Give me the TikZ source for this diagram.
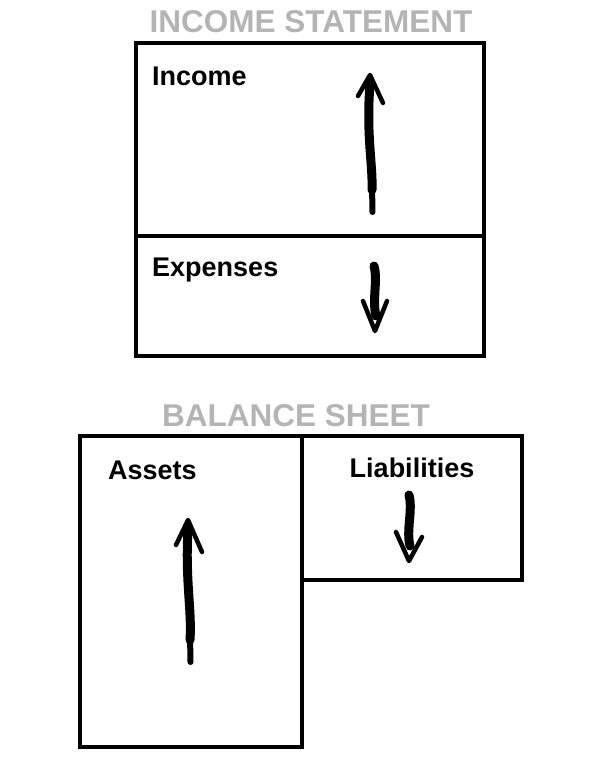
\documentclass[tikz,border=0pt]{standalone}
\usepackage{fontspec}
\setmainfont{Liberation Sans}
\usetikzlibrary{positioning}
\definecolor{headgray}{HTML}{B4B4B4}
\tikzset{
  frame/.style={line width=4pt, line join=miter},
  heading/.style={text=headgray, font=\fontsize{31.5}{31.5}\selectfont\bfseries, inner sep=0pt},
  itemtext/.style={font=\fontsize{27}{27}\selectfont\bfseries, inner sep=0pt},
  shaft/.style={line width=9pt, line cap=round},
  tail/.style={line width=6pt, line cap=round},
  barb/.style={line width=4.5pt, line cap=round, line join=round}
}
\begin{document}
\begin{tikzpicture}[x=1pt, y=-1pt]
  \useasboundingbox (0,0) rectangle (593,774);
  % income statement
  \node[heading, anchor=base] (istitle) at (311,32) {INCOME STATEMENT};
  \draw[frame] (136,43) rectangle (484,356);
  \draw[frame] (136,236) -- (484,236);
  \node[itemtext, anchor=base west] (income) at (152,85) {Income};
  \node[itemtext, anchor=base west] (expenses) at (152,276) {Expenses};
  \draw[shaft] (372,190) .. controls (373,165) and (366,135) .. (370,84);
  \draw[tail] (372,185) -- (372.5,212);
  \draw[barb] (358,96) -- (370,75) -- (383,103);
  \draw[shaft] (374,266) .. controls (378,280) and (372,300) .. (376,316);
  \draw[barb] (363,301) -- (375,331) -- (387,301);
  % balance sheet
  \node[heading, anchor=base] (bstitle) at (296,426) {BALANCE SHEET};
  \draw[frame] (80,436) rectangle (302,747);
  \draw[frame] (302,436) -- (522,436) -- (522,580) -- (302,580);
  \node[itemtext, anchor=base west] (assets) at (108,479) {Assets};
  \node[itemtext, anchor=base] (liabilities) at (412,477) {Liabilities};
  \draw[shaft] (190,640) .. controls (192,610) and (185,580) .. (188,529);
  \draw[tail] (190,635) -- (190.5,662);
  \draw[barb] (176,545) -- (188,520) -- (202,552);
  \draw[shaft] (409,495) .. controls (413,510) and (406,530) .. (410,546);
  \draw[barb] (396,532) -- (409,561) -- (422,537);
\end{tikzpicture}
\end{document}
